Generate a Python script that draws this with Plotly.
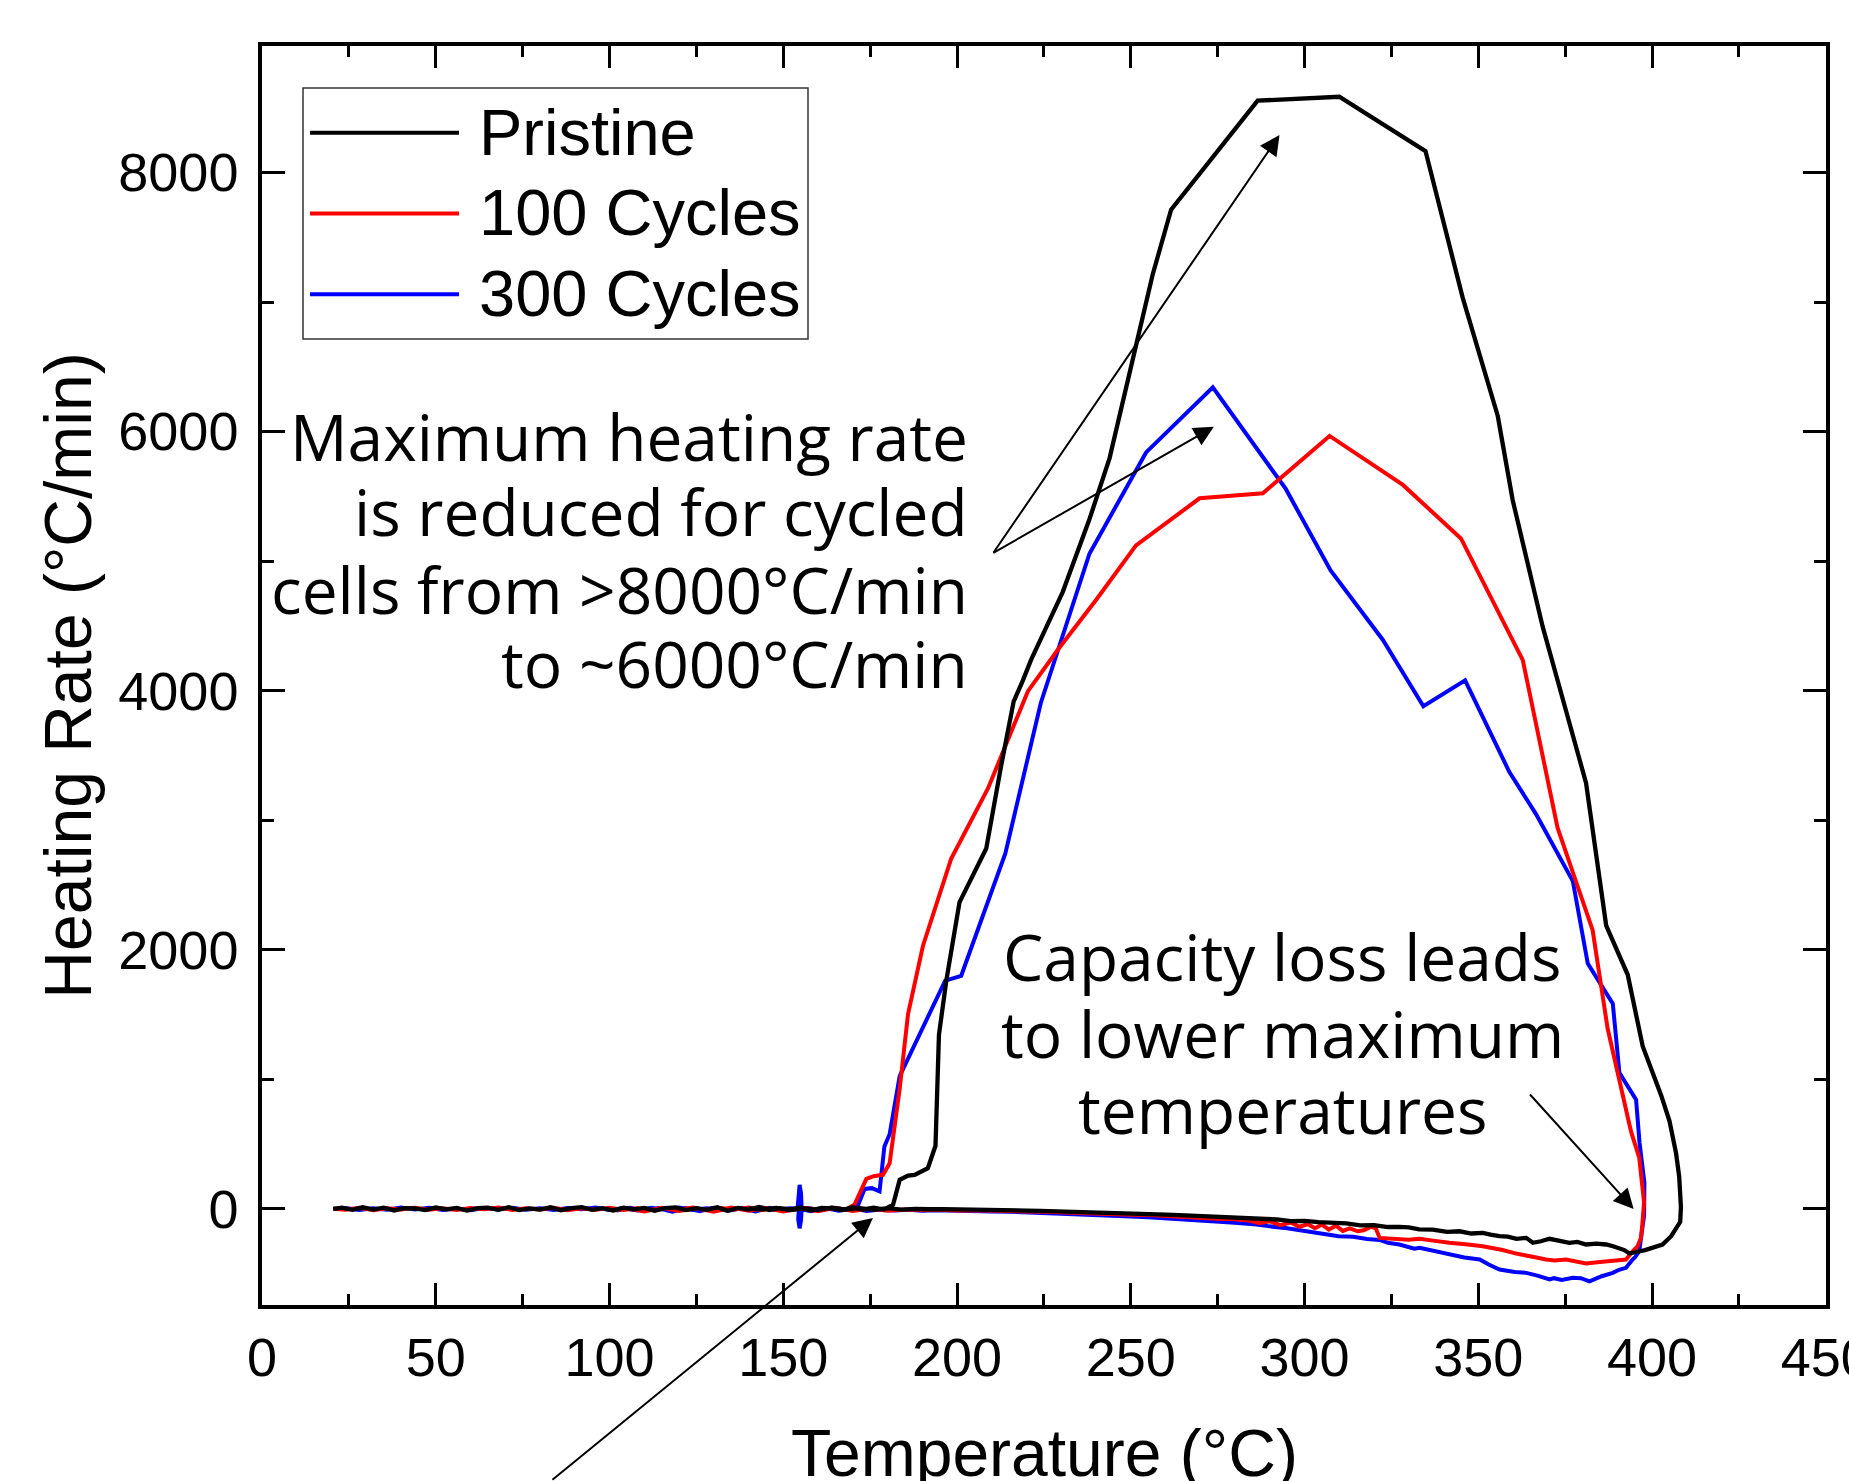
import plotly.graph_objects as go

# ---------------- data: (temperature °C, heating rate °C/min) ----------------
pristine = [
    (20.5, 0), (23, 10), (26, -8), (29, 12), (32, -5), (35, 9), (38, -12), (41, 6), (44, 3), (47, -10),
    (50, 11), (53, -4), (56, 8), (59, -13), (62, 5), (65, 10), (68, -7), (71, 13), (74, -9), (77, 4),
    (80, -6), (83, 12), (86, -10), (89, 6), (92, 13), (95, -8), (98, 5), (101, -12), (104, 10), (107, -4),
    (110, 8), (113, -14), (116, 6), (119, 11), (122, -10), (125, 5), (128, -7), (131, 12), (134, -15), (137, 8),
    (140, -5), (143, 14), (146, -9), (149, 6), (152, -4), (155, 11), (158, -12), (161, 8), (164, 4), (167, -10),
    (170, 12), (173, -6), (176, 9), (179, -5), (181.6, 33),
    (183.5, 224), (185.9, 257), (187.8, 263), (191.6, 314), (193.8, 487), (194.8, 1344), (196.9, 1759),
    (200.7, 2366), (208.4, 2781), (212.7, 3421), (216.3, 3917), (218.9, 4076), (221.3, 4237), (230.4, 4761),
    (238.1, 5323), (243.9, 5795), (252.5, 6797), (256.3, 7212), (261.6, 7713), (286.5, 8554), (310.0, 8584),
    (334.8, 8165), (345.5, 7034), (355.6, 6120), (359.9, 5470), (368.5, 4496), (375.3, 3839), (381.0, 3288),
    (386.8, 2186), (393.0, 1807), (397.3, 1256), (400.0, 1060), (402.6, 878), (405.0, 680), (406.9, 430),
    (407.8, 250), (408.3, 17), (408.1, -100), (407.4, -134), (405.5, -211), (403.0, -275),
    (400.2, -301), (398.0, -318), (396.4, -327), (394.5, -340), (393.5, -345), (392.0, -318), (390.6, -301),
    (389.0, -290), (386.8, -275), (384.0, -268), (381.0, -275), (378.5, -255), (376.2, -262), (373.0, -240),
    (370.5, -231), (368.0, -250), (365.7, -262), (363.8, -224), (361.0, -232), (358.5, -214), (356.1, -211),
    (353.5, -198), (351.3, -185), (348.0, -190), (344.6, -173), (341.0, -178), (336.9, -160), (333.0, -158),
    (330.0, -142), (327.3, -139), (324.0, -140), (320.0, -126), (316.0, -128), (312.0, -112), (308.0, -110),
    (304.0, -103), (300.0, -92), (296.0, -95), (292.0, -82), (288.0, -76), (284.0, -72), (280.0, -66),
    (276.0, -63), (272.0, -55), (268.0, -54), (264.0, -48), (260.0, -44), (256.0, -40), (252.0, -37),
    (248.0, -33), (244.0, -30), (240.0, -27), (236.0, -22), (232.0, -21), (228.0, -18), (224.0, -15),
    (220.0, -13), (216.0, -10), (212.0, -8), (208.0, -9), (204.0, -5), (200.0, -4), (196.0, -2), (192.0, -3),
    (188.0, 0), (184.0, -6), (180.0, 5), (176.0, -8), (172.0, 6), (168.0, -5), (164.0, 9), (160.0, -7),
    (156.0, 4), (152.0, -9), (148.0, 7), (144.0, -4), (140.0, 3),
]

cycles_100 = [
    (20.5, 0), (24, -6), (28, 8), (32, -10), (36, 5), (40, -4), (44, 9), (48, -7), (52, 4), (56, -9),
    (60, 6), (64, -3), (68, 10), (72, -8), (76, 5), (80, -5), (84, 8), (88, -10), (92, 4), (96, -6),
    (100, 9), (104, -8), (108, 5), (112, -11), (116, 7), (120, -4), (124, 10), (128, -9), (132, 6), (136, -5),
    (140, 11), (144, -8), (148, 5), (152, -10), (156, 7), (160, -4), (164, 9), (168, -6), (170.5, 33),
    (173.9, 231), (176.0, 252), (178.7, 263), (180.6, 352), (183.5, 928), (185.9, 1503), (190.2, 2031),
    (198.3, 2702), (208.9, 3245), (220.4, 3996), (229.0, 4316), (240.0, 4700), (251.5, 5121), (269.8, 5485),
    (288.0, 5523), (307.2, 5966), (328.3, 5588), (345.0, 5175), (362.8, 4236), (372.8, 2943), (382.9, 2151),
    (387.2, 1394), (393.9, 602), (396.3, 396), (397.7, 51), (397.2, -120), (396.8, -224), (395.8, -290),
    (394.4, -328), (392.5, -391), (390.5, -398), (388.7, -404), (385.0, -410), (381.0, -422), (378.0, -405),
    (375.3, -391), (372.0, -398), (369.5, -391), (366.0, -372), (363.0, -360), (360.9, -345), (357.0, -318),
    (354.0, -300), (351.3, -288), (347.0, -275), (344.0, -270), (341.7, -262), (337.0, -245), (333.1, -231),
    (330.0, -238), (327.3, -235), (324.0, -232), (321.6, -224), (320.5, -150), (319.2, -138), (317.0, -165),
    (315.3, -173), (313.0, -150), (311.0, -170), (309.0, -130), (307.0, -160), (305.0, -121), (303.0, -150),
    (301.0, -118), (298.5, -138), (296.0, -105), (293.0, -125), (290.0, -95), (287.0, -110), (284.0, -90),
    (280.0, -80), (275.0, -76), (270.0, -68), (265.0, -60), (260.0, -55), (255.0, -48), (250.0, -46),
    (245.0, -40), (240.0, -36), (235.0, -30), (230.0, -28), (225.0, -22), (220.0, -20), (215.0, -16),
    (210.0, -14), (205.0, -10), (200.0, -12), (195.0, -6), (190.0, -8), (185.0, -4), (180.0, -14),
    (175.0, 2), (170.0, -16), (165.0, 8), (160.0, -18), (155.0, 4), (150.0, -20), (145.0, 6), (140.0, -14),
    (135.0, 10), (130.0, -22), (125.0, 4), (120.0, -16), (115.0, 8), (110.0, -20), (105.0, 5), (101.0, -12),
]

cycles_300 = [
    (20.5, 0), (24, 7), (28, -9), (32, 5), (36, -6), (40, 10), (44, -5), (48, 8), (52, -8), (56, 3),
    (60, -10), (64, 7), (68, -4), (72, 9), (76, -7), (80, 4), (84, -9), (88, 6), (92, -3), (96, 10),
    (100, -8), (104, 5), (108, -12), (112, 8), (116, -6), (120, 11), (124, -9), (128, 5), (132, -11), (136, 7),
    (140, -4), (144, 10), (148, -8), (152, 4), (154.1, 0), (154.4, 110), (154.7, 185), (155.1, 120),
    (155.3, 0), (155.1, -90), (154.7, -150), (154.3, -80), (154.5, 0), (157, 6), (160, -7), (164, 9),
    (168, -5), (171.5, 26),
    (173.4, 154), (175.5, 160), (177.7, 135), (179.1, 481), (180.6, 576), (183.5, 1024), (196.6, 1762),
    (201.2, 1799), (213.9, 2744), (224.1, 3905), (238.1, 5057), (254.4, 5839), (273.6, 6341), (294.6, 5557),
    (307.5, 4928), (322.5, 4393), (334.2, 3880), (346.2, 4080), (358.9, 3374), (366.6, 3047), (377.2, 2530),
    (381.5, 1894), (388.7, 1584), (390.6, 1050), (395.4, 843), (396.4, 509), (397.8, 200), (397.7, -52),
    (397.0, -200), (396.3, -328), (395.2, -370), (394.4, -391), (392.5, -455), (390.5, -470), (388.7, -494),
    (385.5, -520), (382.0, -560), (379.5, -535), (377.2, -532), (374.0, -548), (371.8, -535), (370.5, -545),
    (367.0, -515), (363.8, -494), (360.5, -488), (357.4, -475), (356.1, -468), (353.0, -430), (350.4, -391),
    (346.0, -375), (341.7, -352), (338.0, -330), (333.1, -300), (331.6, -307), (327.3, -275), (324.0, -262),
    (321.6, -240), (318.0, -232), (314.0, -215), (309.8, -211), (305.0, -190), (300.0, -173), (295.0, -150),
    (290.0, -135), (286.2, -121), (280.0, -108), (275.0, -98), (270.0, -88), (266.6, -83), (260.0, -72),
    (255.0, -64), (250.0, -58), (245.0, -52), (237.2, -44), (230.0, -36), (225.0, -30), (220.0, -27),
    (215.0, -22), (210.0, -20), (205.0, -16), (198.0, -18), (194.0, -10), (190.0, -14), (186.0, -6),
    (182.0, -12), (178.0, -4), (174.0, -16), (170.0, 2), (166.0, -14), (162.0, 6), (158.0, -18), (154.0, 3),
    (150.0, -16), (146.0, 8), (142.0, -20), (138.0, 5), (134.0, -14), (130.0, 9), (126.0, -18), (122.0, 4),
    (118.0, -22), (114.0, 6), (110.0, -16), (106.0, 8), (102.0, -12),
]

series_names = ["Pristine", "100 Cycles", "300 Cycles"]
series_colors = ["#000000", "#ff0000", "#0000ff"]
x_tick_values = [0, 50, 100, 150, 200, 250, 300, 350, 400, 450]
y_tick_values = [0, 2000, 4000, 6000, 8000]
x_title = "Temperature (°C)"
y_title = "Heating Rate (°C/min)"

annotation_left = ["Maximum heating rate", "is reduced for cycled",
                   "cells from >8000°C/min", "to ~6000°C/min"]
annotation_right = ["Capacity loss leads", "to lower maximum", "temperatures"]

# ---------------- figure ----------------
W, H = 1849, 1481
ML, MR, MT, MB = 262, 23, 46, 176
PW, PH = W - ML - MR, H - MT - MB


def px_x(p):
    return (p - ML) / PW


def px_y(p):
    return (H - MB - p) / PH


fig = go.Figure()
data_sets = [pristine, cycles_100, cycles_300]
# draw blue first, then red, black on top
for idx, width in [(2, 4.0), (1, 4.0), (0, 4.3)]:
    t, r = zip(*data_sets[idx])
    fig.add_trace(go.Scatter(x=list(t), y=list(r), mode="lines", name=series_names[idx],
                             line=dict(color=series_colors[idx], width=width), showlegend=False))

axis_common = dict(
    showline=True, linecolor="black", linewidth=3.5, mirror="allticks",
    ticks="inside", tickcolor="black", tickwidth=3,
    showgrid=False, zeroline=False,
    tickfont=dict(family="Liberation Sans, Arial", size=54, color="black"),
)

fig.update_xaxes(**axis_common, range=[0, 450.05], tickvals=x_tick_values, ticklen=22,
                 ticklabelstandoff=2, ticklabeloverflow="allow",
                 minor=dict(dtick=25, tick0=0, ticks="inside", ticklen=11, tickwidth=3, tickcolor="black"))
fig.update_yaxes(**axis_common, range=[-742, 8976], tickvals=y_tick_values, ticklen=23,
                 ticklabelstandoff=9,
                 minor=dict(dtick=1000, tick0=0, ticks="inside", ticklen=12, tickwidth=3, tickcolor="black"),
                 title=dict(text=y_title, standoff=6,
                            font=dict(family="Liberation Sans, Arial", size=66, color="black")))

shapes = []
annotations = []

# x-axis title (placed as annotation so it may sit partly below the page edge like the original)
annotations.append(dict(xref="paper", yref="paper", x=0.5, y=px_y(1413.7), xanchor="center",
                        yanchor="top", text=x_title, showarrow=False,
                        font=dict(family="Liberation Sans, Arial", size=66, color="black")))

# manual legend (box, line samples, labels)
shapes.append(dict(type="rect", xref="paper", yref="paper", x0=px_x(303), x1=px_x(808),
                   y0=px_y(339), y1=px_y(88), line=dict(color="#333333", width=1.5),
                   fillcolor="rgba(0,0,0,0)"))
legend_rows = [132.7, 213.5, 294.3]
for i, yy in enumerate(legend_rows):
    shapes.append(dict(type="line", xref="paper", yref="paper", x0=px_x(310), x1=px_x(459),
                       y0=px_y(yy), y1=px_y(yy), line=dict(color=series_colors[i], width=4)))
    annotations.append(dict(xref="paper", yref="paper", x=px_x(477), y=px_y(yy - 0.5),
                            xanchor="left", yanchor="middle", text=series_names[i], showarrow=False,
                            font=dict(family="Liberation Sans, Arial", size=65, color="black")))

# text blocks
for txt, base in zip(annotation_left, [461, 536.7, 614.3, 688.3]):
    annotations.append(dict(xref="paper", yref="paper", x=px_x(970), y=px_y(base - 24.8),
                            xanchor="right", yanchor="middle", text=txt, showarrow=False,
                            font=dict(family="Open Sans", size=64, color="black")))
for txt, base in zip(annotation_right, [981, 1058, 1134]):
    annotations.append(dict(xref="paper", yref="paper", x=px_x(1282), y=px_y(base - 24.8),
                            xanchor="center", yanchor="middle", text=txt, showarrow=False,
                            font=dict(family="Open Sans", size=64, color="black")))

# arrows: head in data coordinates, tail offset in pixels
arrows = [
    (292.8, 8289, -287, 419),
    (273.9, 6037, -222, 127),
    (394.7, -1, -105, -116),
    (175.8, -70, -322, 276),
]
for hx, hy, ax, ay in arrows:
    annotations.append(dict(x=hx, y=hy, xref="x", yref="y", ax=ax, ay=ay, axref="pixel", ayref="pixel",
                            text="", showarrow=True, arrowhead=2, arrowsize=2.0, arrowwidth=2,
                            arrowcolor="black"))

fig.update_layout(
    width=W, height=H,
    margin=dict(l=ML, r=MR, t=MT, b=MB, autoexpand=False),
    paper_bgcolor="white", plot_bgcolor="white",
    shapes=shapes, annotations=annotations, showlegend=False,
)

fig.write_html("out.html", config={"displayModeBar": False},
               post_script="document.body.style.margin='0';document.body.style.overflow='hidden';")
